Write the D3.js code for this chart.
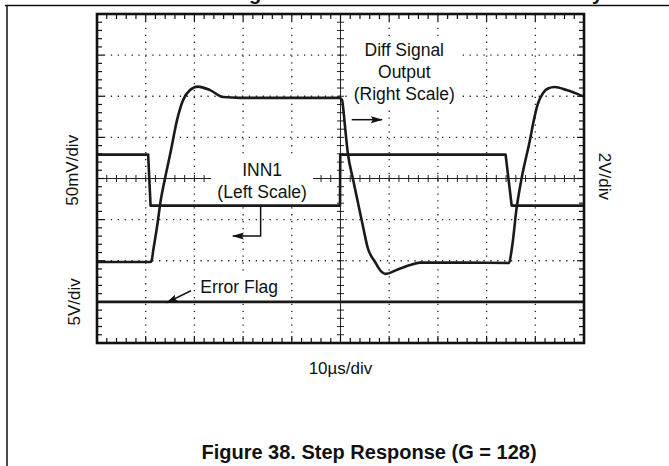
<!DOCTYPE html>
<html>
<head>
<meta charset="utf-8">
<script src="https://cdn.jsdelivr.net/npm/d3@7"></script>
<style>
  body { margin: 0; background: #fff; }
  text { font-family: "Liberation Sans", Arial, sans-serif; fill: #111; }
</style>
</head>
<body>
<div id="chart"></div>
<script>

// INN1 input step, left scale (mV), time in µs
const innTime = [0, 10.5, 11.0, 49.9, 49.95, 83.9, 85.15, 100];
const innMv   = [29, 29, -33, -33, 29, 29, -33, -33];

// differential output, right scale (V)
const outTime = [0, 10.9, 11.2, 11.56, 12.53, 12.94, 13.96, 15.2, 16.43, 17.66, 19.1, 20.7, 23.2, 25.9, 29.4,
                 49.7, 50.3, 50.7, 50.9, 51.5, 52.6, 53.6, 54.6, 55.6, 57.1, 58.1, 59.3, 61.5, 64.3, 66.3, 75.0,
                 84.6, 85.2, 86.2, 87.2, 88.9, 89.7, 90.5, 91.6, 92.6, 94.0, 96.4, 100];
const outV    = [-4.06, -4.06, -4.0, -3.48, -2.02, -1.29, 0, 1.39, 2.84, 3.81, 4.30, 4.47, 4.30, 3.96, 3.92,
                 3.92, 3.83, 3.09, 2.60, 1.24, -0.07, -1.19, -2.31, -3.38, -4.06, -4.45, -4.64, -4.45, -4.21, -4.09, -4.09,
                 -4.11, -3.38, -1.37, 0.02, 1.87, 2.84, 3.62, 4.16, 4.38, 4.45, 4.30, 3.98];

// error flag, stays low the whole time
const errTime = [0, 100];
const errV    = [0, 0];

const xDivs = 10, yDivs = 8;
const labels = {
  left: '50mV/div',
  flag: '5V/div',
  right: '2V/div',
  bottom: '10µs/div',
  title: 'Figure 38. Step Response (G = 128)'
};

const W = 669, H = 466;
const box = { left: 97, right: 584, top: 14, bottom: 343 };

const svg = d3.select('#chart').append('svg')
  .attr('width', W)
  .attr('height', H);

svg.append('defs').append('marker')
  .attr('id', 'head')
  .attr('viewBox', '0 0 12 8')
  .attr('refX', 11).attr('refY', 4)
  .attr('markerWidth', 12).attr('markerHeight', 8)
  .attr('markerUnits', 'userSpaceOnUse')
  .attr('orient', 'auto')
  .append('path')
    .attr('d', 'M0,0.5 L12,4 L0,7.5 L2,4 Z')
    .attr('fill', '#111');

// page frame (left/top edges of the datasheet box)
svg.append('path')
  .attr('d', `M5,5.5 H${W} M7,5 V${H}`)
  .attr('stroke', '#111').attr('stroke-width', 1.5).attr('fill', 'none');

// bits of the caption above that got cut
svg.append('text').attr('x', 249).attr('y', 0).attr('font-size', 20).attr('font-weight', 'bold').text('g');
svg.append('text').attr('x', 592).attr('y', 0).attr('font-size', 20).attr('font-weight', 'bold').text('y');

const x = d3.scaleLinear().domain([0, 100]).range([box.left, box.right]);
const yDiv = d3.scaleLinear().domain([-4, 4]).range([box.bottom, box.top]);
const yIn = d3.scaleLinear().domain([-200, 200]).range([box.bottom, box.top]);
const yOut = d3.scaleLinear().domain([-8, 8]).range([box.bottom, box.top]);
const yErr = d3.scaleLinear().domain([-5, 35]).range([box.bottom, box.top]);

const g = svg.append('g');

// dotted graticule
const grid = g.append('g')
  .attr('stroke', '#222')
  .attr('stroke-width', 1.3)
  .attr('stroke-dasharray', '1.3,5.6');

grid.selectAll('.vg')
  .data(d3.range(1, xDivs).filter((d) => d !== xDivs / 2))
  .enter().append('line')
    .attr('x1', (d) => x(d * 10)).attr('x2', (d) => x(d * 10))
    .attr('y1', box.top).attr('y2', box.bottom);

grid.selectAll('.hg')
  .data(d3.range(-3, 4).filter((d) => d !== 0))
  .enter().append('line')
    .attr('y1', (d) => yDiv(d)).attr('y2', (d) => yDiv(d))
    .attr('x1', box.left).attr('x2', box.right);

// centre cross with minor ticks
const axes = g.append('g').attr('stroke', '#222').attr('stroke-width', 1);

axes.append('line')
  .attr('x1', box.left).attr('x2', box.right)
  .attr('y1', yDiv(0)).attr('y2', yDiv(0));
axes.append('line')
  .attr('x1', x(50)).attr('x2', x(50))
  .attr('y1', box.top).attr('y2', box.bottom);

const xMinor = d3.range(0, 100.001, 2);
const yMinor = d3.range(-4, 4.001, 0.2);

axes.selectAll('.cxt')
  .data(xMinor)
  .enter().append('line')
    .attr('x1', (d) => x(d)).attr('x2', (d) => x(d))
    .attr('y1', yDiv(0) - 3.5).attr('y2', yDiv(0) + 3.5);

axes.selectAll('.cyt')
  .data(yMinor)
  .enter().append('line')
    .attr('y1', (d) => yDiv(d)).attr('y2', (d) => yDiv(d))
    .attr('x1', x(50) - 3.5).attr('x2', x(50) + 3.5);

// border ticks pointing inwards
const isMajor = (v, step) => Math.abs(v / step - Math.round(v / step)) < 1e-6;
const bt = g.append('g').attr('stroke', '#111').attr('stroke-width', 1.2);

bt.selectAll('.tt')
  .data(xMinor)
  .enter().append('line')
    .attr('x1', (d) => x(d)).attr('x2', (d) => x(d))
    .attr('y1', box.top).attr('y2', (d) => box.top + (isMajor(d, 10) ? 7 : 5));
bt.selectAll('.bt')
  .data(xMinor)
  .enter().append('line')
    .attr('x1', (d) => x(d)).attr('x2', (d) => x(d))
    .attr('y1', box.bottom).attr('y2', (d) => box.bottom - (isMajor(d, 10) ? 7 : 5));
bt.selectAll('.lt')
  .data(yMinor)
  .enter().append('line')
    .attr('y1', (d) => yDiv(d)).attr('y2', (d) => yDiv(d))
    .attr('x1', box.left).attr('x2', (d) => box.left + (isMajor(d, 1) ? 7 : 5));
bt.selectAll('.rt')
  .data(yMinor)
  .enter().append('line')
    .attr('y1', (d) => yDiv(d)).attr('y2', (d) => yDiv(d))
    .attr('x1', box.right).attr('x2', (d) => box.right - (isMajor(d, 1) ? 7 : 5));

// annotations: text blocks with white backing, positions in (µs, div)
const notes = [
  { lines: ['Diff Signal', 'Output', '(Right Scale)'], t: 63.1, d: 2.6, w: 110, h: 68 },
  { lines: ['INN1', '(Left Scale)'], t: 33.9, d: -0.06, w: 102, h: 44 },
  { lines: ['Error Flag'], t: 29.2, d: -2.64, w: 86, h: 22 }
];
const lineGap = 22;

notes.forEach((n) => {
  const cx = x(n.t), cy = yDiv(n.d);
  g.append('rect')
    .attr('x', cx - n.w / 2).attr('y', cy - n.h / 2)
    .attr('width', n.w).attr('height', n.h)
    .attr('fill', '#fff');
});

// traces
const line = (ys) => d3.line()
  .x((d) => x(d[0]))
  .y((d) => ys(d[1]));

g.append('path')
  .datum(d3.zip(errTime, errV))
  .attr('d', line(yErr))
  .attr('fill', 'none').attr('stroke', '#1a1a1a').attr('stroke-width', 2.6);

g.append('path')
  .datum(d3.zip(innTime, innMv))
  .attr('d', line(yIn))
  .attr('fill', 'none').attr('stroke', '#1a1a1a').attr('stroke-width', 2.6)
  .attr('stroke-linejoin', 'round');

g.append('path')
  .datum(d3.zip(outTime, outV))
  .attr('d', line(yOut).curve(d3.curveMonotoneX))
  .attr('fill', 'none').attr('stroke', '#1a1a1a').attr('stroke-width', 2.6)
  .attr('stroke-linejoin', 'round');

// border
g.append('rect')
  .attr('x', box.left).attr('y', box.top)
  .attr('width', box.right - box.left).attr('height', box.bottom - box.top)
  .attr('fill', 'none').attr('stroke', '#111').attr('stroke-width', 2.6);

notes.forEach((n) => {
  const cx = x(n.t), cy = yDiv(n.d);
  const t = g.append('text')
    .attr('text-anchor', 'middle')
    .attr('font-size', 17.5);
  n.lines.forEach((s, i) => {
    t.append('tspan')
      .attr('x', cx)
      .attr('y', cy + (i - (n.lines.length - 1) / 2) * lineGap + 6)
      .text(s);
  });
});

// arrows, in (µs, div)
const arrows = [
  [[52.3, 1.43], [58.5, 1.43]],
  [[33.6, -0.65], [33.6, -1.4], [27.9, -1.4]],
  [[19.3, -2.73], [14.3, -3.02]]
];
arrows.forEach((a) => {
  g.append('path')
    .attr('d', d3.line().x((d) => x(d[0])).y((d) => yDiv(d[1]))(a))
    .attr('fill', 'none').attr('stroke', '#111').attr('stroke-width', 1.5)
    .attr('marker-end', 'url(#head)');
});

// scale labels
svg.append('text')
  .attr('transform', `translate(${box.left - 19}, ${yDiv(0.2)}) rotate(-90)`)
  .attr('text-anchor', 'middle').attr('font-size', 17)
  .text(labels.left);
svg.append('text')
  .attr('transform', `translate(${box.left - 17}, ${yDiv(-3)}) rotate(-90)`)
  .attr('text-anchor', 'middle').attr('font-size', 17)
  .text(labels.flag);
svg.append('text')
  .attr('transform', `translate(${box.right + 15}, ${yDiv(0.05)}) rotate(90)`)
  .attr('text-anchor', 'middle').attr('font-size', 17)
  .text(labels.right);

svg.append('text')
  .attr('x', x(50)).attr('y', box.bottom + 31)
  .attr('text-anchor', 'middle').attr('font-size', 17)
  .text(labels.bottom);

svg.append('text')
  .attr('x', 369).attr('y', 459)
  .attr('text-anchor', 'middle').attr('font-size', 20).attr('font-weight', 'bold')
  .text(labels.title);

</script>
</body>
</html>
